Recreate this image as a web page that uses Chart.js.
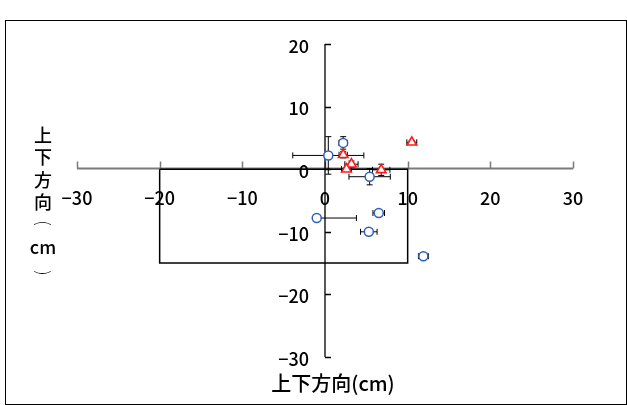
<!DOCTYPE html>
<html>
<head>
<meta charset="utf-8">
<script src="https://cdn.jsdelivr.net/npm/chart.js@4.4.0/dist/chart.umd.min.js"></script>
<style>
html, body { margin: 0; padding: 0; background: #fff; }
#wrap { position: relative; width: 627px; height: 405px; }
</style>
</head>
<body>
<div id="wrap"><canvas id="chart" width="627" height="405"></canvas></div>
<script>
// ===== 目盛り =====
const xTicks = [-30, -20, -10, 0, 10, 20, 30];
const yTicks = [20, 10, 0, -10, -20, -30];

// ===== 青丸のデータ =====
const circleX = [2.2, 0.4, 5.4, 6.5, -1.0, 5.3, 11.9];
const circleY = [4.2, 2.2, -1.2, -7.0, -7.8, -10.0, -13.9];
const circleXErrMinus = [0.5, 4.3, 2.5, 0.7, 0.3, 1.0, 0.6];
const circleXErrPlus  = [0.5, 4.3, 2.5, 0.7, 4.8, 1.0, 0.6];
const circleYErr = [1.0, 3.0, 1.3, 0.3, 0.3, 0.2, 0.2];

// ===== 赤三角のデータ =====
const triX = [2.2, 3.2, 2.6, 6.8, 10.5];
const triY = [2.3, 0.8, 0.0, -0.1, 4.3];
const triXErr = [0.5, 0.8, 0.6, 1.05, 0.6];
const triYErr = [0.5, 0.5, 0.3, 0.9, 0.3];

// ===== 枠 (四角形) =====
const boxX = [-20, -20, 10, 10, -20];
const boxY = [0, -15, -15, 0, 0];

const xTitle = '上下方向(cm)';
// 縦書きのタイトル (括弧は回転して描く)
const yTitle = ['上', '下', '方', '向', '(', 'cm', ')'];

const FONT = '"Noto Sans CJK JP", "Noto Sans", sans-serif';

function fmt(v) {
    return v < 0 ? '\u2212' + Math.abs(v) : String(v);
}

function toPoints(xs, ys) {
    return xs.map((x, i) => ({ x: x, y: ys[i] }));
}

// ===== 誤差線 =====
function drawErrorBars(ctx, xs, ys, xm, xp, ym, yp, sx, sy) {
    const cap = 3;
    xs.forEach((x, i) => {
        const px = sx.getPixelForValue(x), py = sy.getPixelForValue(ys[i]);
        const l = sx.getPixelForValue(x - xm[i]), r = sx.getPixelForValue(x + xp[i]);
        const t = sy.getPixelForValue(ys[i] + yp[i]), b = sy.getPixelForValue(ys[i] - ym[i]);
        ctx.beginPath();
        ctx.moveTo(l, py); ctx.lineTo(r, py);
        ctx.moveTo(l, py - cap); ctx.lineTo(l, py + cap);
        ctx.moveTo(r, py - cap); ctx.lineTo(r, py + cap);
        ctx.moveTo(px, t); ctx.lineTo(px, b);
        ctx.moveTo(px - cap, t); ctx.lineTo(px + cap, t);
        ctx.moveTo(px - cap, b); ctx.lineTo(px + cap, b);
        ctx.stroke();
    });
}

const axesPlugin = {
    id: 'axesPlugin',
    beforeDatasetsDraw(chart) {
        const { ctx } = chart;
        const sx = chart.scales.x, sy = chart.scales.y;
        const x0 = sx.getPixelForValue(0), y0 = Math.round(sy.getPixelForValue(0)) - 0.5;
        ctx.save();

        // 横軸
        ctx.strokeStyle = '#7a7a7a';
        ctx.lineWidth = 2;
        ctx.beginPath();
        ctx.moveTo(sx.getPixelForValue(xTicks[0]), y0);
        ctx.lineTo(sx.getPixelForValue(xTicks[xTicks.length - 1]), y0);
        ctx.stroke();
        ctx.lineWidth = 1.5;
        ctx.beginPath();
        xTicks.forEach(v => {
            const p = Math.round(sx.getPixelForValue(v)) + 0.5;
            ctx.moveTo(p, y0);
            ctx.lineTo(p, y0 - 7);
        });
        ctx.stroke();

        // 縦軸
        ctx.strokeStyle = '#000';
        ctx.lineWidth = 1.3;
        ctx.beginPath();
        ctx.moveTo(x0, sy.getPixelForValue(yTicks[0]));
        ctx.lineTo(x0, sy.getPixelForValue(yTicks[yTicks.length - 1]));
        yTicks.forEach(v => {
            const p = Math.round(sy.getPixelForValue(v)) + 0.5;
            ctx.moveTo(x0, p);
            ctx.lineTo(x0 + 6, p);
        });
        ctx.stroke();

        // 目盛りラベル
        ctx.fillStyle = '#000';
        ctx.font = '500 18px ' + FONT;
        ctx.textBaseline = 'middle';
        ctx.textAlign = 'center';
        xTicks.forEach(v => ctx.fillText(fmt(v), sx.getPixelForValue(v), y0 + 30));
        ctx.textAlign = 'right';
        yTicks.forEach(v => ctx.fillText(fmt(v), x0 - 16, sy.getPixelForValue(v) + 2));

        // 誤差線
        ctx.strokeStyle = '#000';
        ctx.lineWidth = 1;
        drawErrorBars(ctx, circleX, circleY, circleXErrMinus, circleXErrPlus, circleYErr, circleYErr, sx, sy);
        drawErrorBars(ctx, triX, triY, triXErr, triXErr, triYErr, triYErr, sx, sy);
        ctx.restore();
    },
    afterDraw(chart) {
        const { ctx } = chart;
        ctx.save();
        ctx.fillStyle = '#000';
        ctx.font = '500 20px ' + FONT;
        ctx.textAlign = 'center';
        ctx.textBaseline = 'middle';
        ctx.fillText(xTitle, 333, 383);
        yTitle.forEach((ch, i) => {
            const cy = 135 + i * 22.5;
            if (ch === '(' || ch === ')') {
                ctx.save();
                ctx.font = '300 17px ' + FONT;
                ctx.translate(43, cy + (ch === '(' ? -2 : 3));
                ctx.rotate(Math.PI / 2);
                ctx.fillText(ch, 0, 0);
                ctx.restore();
            } else {
                ctx.font = '500 18px ' + FONT;
                ctx.fillText(ch, 43, cy);
            }
        });
        // 外枠
        ctx.strokeStyle = '#000';
        ctx.lineWidth = 1;
        ctx.strokeRect(5.5, 20.5, 621, 384);
        ctx.restore();
    }
};

new Chart(document.getElementById('chart'), {
    type: 'scatter',
    data: {
        datasets: [
            {
                label: 'circle',
                data: toPoints(circleX, circleY),
                pointStyle: 'circle',
                pointRadius: 4.5,
                pointBackgroundColor: '#fff',
                pointBorderColor: '#2f5fb8',
                pointBorderWidth: 1.5
            },
            {
                label: 'triangle',
                data: toPoints(triX, triY),
                pointStyle: 'triangle',
                pointRadius: 5.5,
                pointBackgroundColor: '#fff',
                pointBorderColor: '#ff1a1a',
                pointBorderWidth: 1.6
            },
            {
                label: 'box',
                data: toPoints(boxX, boxY),
                showLine: true,
                borderColor: '#000',
                borderWidth: 1.5,
                pointRadius: 0,
                fill: false
            }
        ]
    },
    options: {
        responsive: false,
        animation: false,
        devicePixelRatio: 1,
        layout: { padding: { left: 77, right: 54, top: 44, bottom: 48 } },
        plugins: { legend: { display: false }, tooltip: { enabled: false } },
        scales: {
            x: { type: 'linear', min: -30, max: 30, display: false },
            y: { type: 'linear', min: -30, max: 20, display: false }
        }
    },
    plugins: [axesPlugin]
});
</script>
</body>
</html>
